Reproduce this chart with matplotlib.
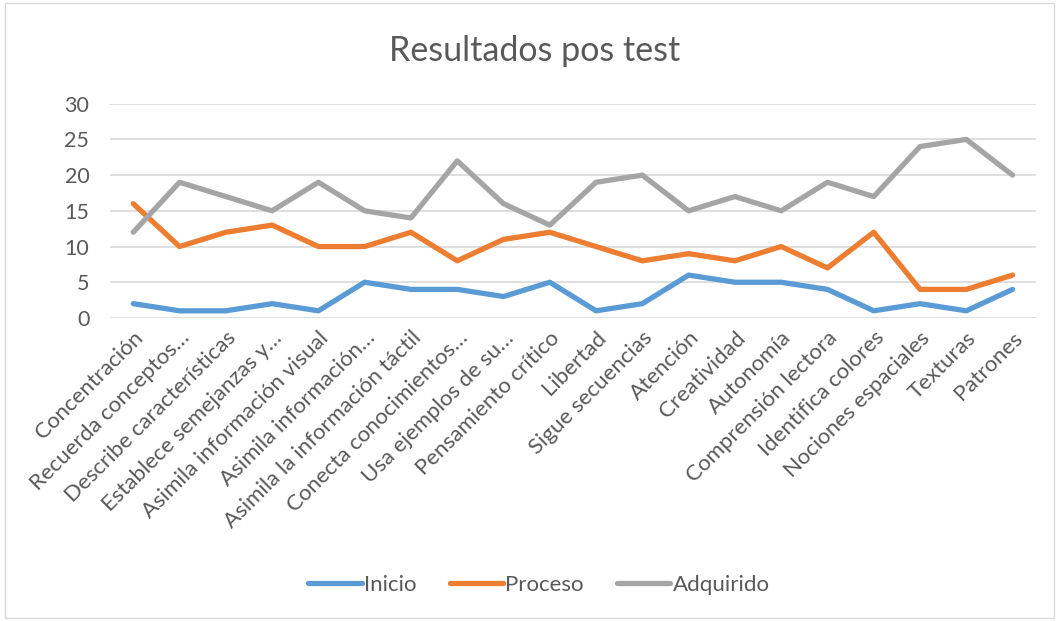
import matplotlib as mpl
mpl.use('Agg')
from matplotlib import pyplot as plt
from matplotlib.patches import Rectangle
import numpy as np

plt.rcParams['font.family'] = ['Lato', 'DejaVu Sans']

categorias = ['Concentración', 'Recuerda conceptos…', 'Describe características',
              'Establece semejanzas y…', 'Asimila información visual',
              'Asimila información…', 'Asimila la información táctil',
              'Conecta conocimientos…', 'Usa ejemplos de su…', 'Pensamiento crítico',
              'Libertad', 'Sigue secuencias', 'Atención', 'Creatividad', 'Autonomía',
              'Comprensión lectora', 'Identifica colores', 'Nociones espaciales',
              'Texturas', 'Patrones']
inicio = [2, 1, 1, 2, 1, 5, 4, 4, 3, 5, 1, 2, 6, 5, 5, 4, 1, 2, 1, 4]
proceso = [16, 10, 12, 13, 10, 10, 12, 8, 11, 12, 10, 8, 9, 8, 10, 7, 12, 4, 4, 6]
adquirido = [12, 19, 17, 15, 19, 15, 14, 22, 16, 13, 19, 20, 15, 17, 15, 19, 17, 24, 25, 20]
yticks = [0, 5, 10, 15, 20, 25, 30]

gris = '#595959'
fig = plt.figure(figsize=(10.59, 6.21), dpi=100)
ax = fig.add_axes([0.104, 0.488, 0.874, 0.345])

x = np.arange(len(categorias))
ax.plot(x, inicio, color='#5b9bd5', linewidth=3.8, label='Inicio', solid_capstyle='round')
ax.plot(x, proceso, color='#ed7d31', linewidth=3.8, label='Proceso', solid_capstyle='round')
ax.plot(x, adquirido, color='#a5a5a5', linewidth=3.8, label='Adquirido', solid_capstyle='round')

ax.set_xlim(-0.5, len(categorias) - 0.5)
ax.set_ylim(0, 30)
ax.set_yticks(yticks)
ax.set_xticks(x)
ax.set_xticklabels(categorias, rotation=45, ha='right', va='top', rotation_mode='anchor',
                   fontsize=16, color=gris)
ax.tick_params(axis='y', labelsize=15.5, labelcolor=gris, length=0, pad=15)
ax.tick_params(axis='x', length=0, pad=7)
ax.grid(axis='y', color='#d9d9d9', linewidth=1.2)
ax.set_axisbelow(True)
for s in ax.spines.values():
    s.set_visible(False)

fig.text(0.505, 0.918, 'Resultados pos test', ha='center', va='center', fontsize=24.5, color=gris)

h, l = ax.get_legend_handles_labels()
fig.legend(h, l, loc='center', bbox_to_anchor=(0.509, 0.058), ncol=3, frameon=False,
           fontsize=16, labelcolor=gris, handlelength=2.4, handletextpad=0.1,
           columnspacing=1.5)

fig.patches.append(Rectangle((0.005, 0.005), 0.99, 0.99, transform=fig.transFigure,
                             fill=False, edgecolor='#d9d9d9', linewidth=1))

plt.savefig('out.png', dpi=100)
